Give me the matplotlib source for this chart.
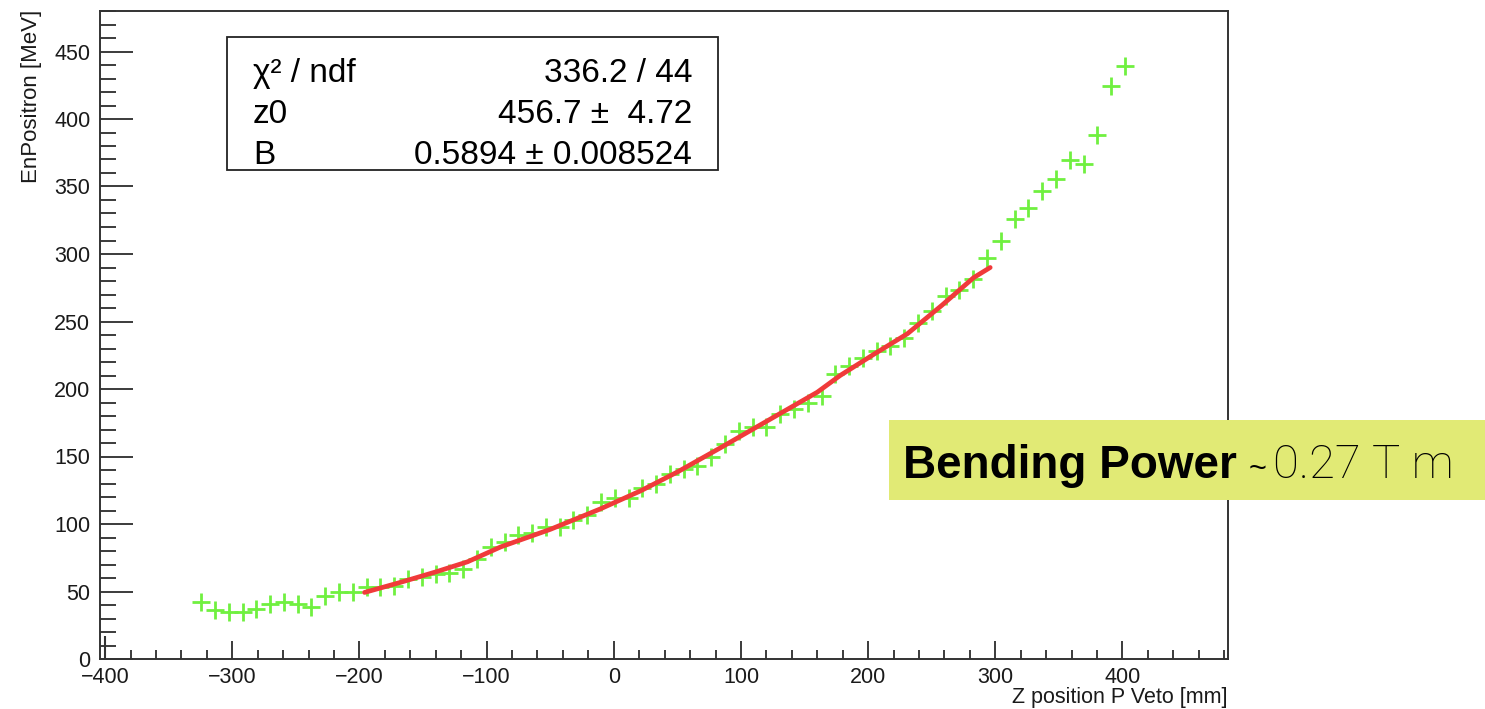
import matplotlib
matplotlib.use('Agg')
import matplotlib.pyplot as plt
from matplotlib.patches import Rectangle
from matplotlib.ticker import MultipleLocator

# measured points (Z position [mm], EnPositron [MeV])
z_pos = [-324.4, -313.6, -302.7, -291.9, -281.0, -270.2, -259.4, -248.5, -237.7, -226.8,
         -216.0, -205.2, -194.3, -183.5, -172.6, -161.8, -151.0, -140.1, -129.3, -118.4,
         -107.6, -96.8, -85.9, -75.1, -64.2, -53.4, -42.6, -31.7, -20.9, -10.0,
         0.8, 11.6, 22.5, 33.3, 44.2, 55.0, 65.8, 76.7, 87.5, 98.4,
         109.2, 120.0, 130.9, 141.7, 152.6, 163.4, 174.2, 185.1, 195.9, 206.8,
         217.6, 228.4, 239.3, 250.1, 261.0, 271.8, 282.6, 293.5, 304.3, 315.2,
         326.0, 336.8, 347.7, 358.5, 369.4, 380.2, 391.0, 401.9]
en_pos = [42.1, 36.4, 34.7, 34.7, 37.2, 40.9, 42.1, 40.4, 38.4, 46.3,
          50.0, 50.0, 53.2, 53.2, 54.4, 59.0, 60.4, 63.3, 64.0, 67.0,
          74.4, 82.6, 87.0, 92.2, 93.0, 97.5, 97.5, 102.6, 106.3, 116.0,
          118.9, 119.6, 127.0, 130.0, 137.4, 141.0, 143.3, 150.0, 159.6, 169.0,
          171.5, 171.5, 181.8, 185.5, 190.0, 195.0, 211.0, 217.4, 223.3, 228.5,
          232.2, 238.1, 249.0, 258.0, 269.0, 273.0, 281.8, 297.4, 309.3, 325.6,
          334.4, 346.3, 355.2, 369.3, 367.0, 388.5, 424.8, 438.9]

# fit curve as drawn
fit_z = [-196, -168, -140, -115, -89, -50, -11, 21, 50, 84, 120, 160, 178, 205, 231, 258, 283, 296]
fit_en = [49.3, 56.7, 64.5, 72.0, 83.0, 96.0, 111.0, 124.5, 138.5, 156.5, 176.0, 197.6,
          210.0, 226.0, 241.0, 262.0, 282.5, 290.0]

# stray entry near the left edge
stray_z = [-400]
stray_lo = [0]
stray_hi = [17]

stat_names = ['χ² / ndf', 'z0', 'B']
stat_values = ['336.2 / 44', '456.7 ±  4.72', '0.5894 ± 0.008524']

W, H = 1485, 709
plt.rcParams['font.family'] = ['Liberation Sans', 'DejaVu Sans']
fig = plt.figure(figsize=(W / 100, H / 100), dpi=100)
ax = fig.add_axes([100 / W, 50 / H, 1128 / W, 648 / H])

ax.plot(z_pos, en_pos, ls='none', marker='+', ms=12.5, mew=2, color='#70f040', zorder=3)
ax.plot(fit_z, fit_en, color='#f03a3a', lw=3.4, solid_capstyle='round', zorder=4)
ax.vlines(stray_z, stray_lo, stray_hi, color='#333333', lw=1.5)

ax.set_xlim(-404, 483)
ax.set_ylim(0, 480)
ax.xaxis.set_major_locator(MultipleLocator(100))
ax.xaxis.set_minor_locator(MultipleLocator(20))
ax.yaxis.set_major_locator(MultipleLocator(50))
ax.yaxis.set_minor_locator(MultipleLocator(10))
ax.tick_params(which='both', direction='in', top=False, right=False, colors='#1a1a1a', labelsize=15.5)
ax.xaxis.set_tick_params(which='major', length=13, width=1.2, pad=5.5)
ax.xaxis.set_tick_params(which='minor', length=6.5, width=1.2)
ax.yaxis.set_tick_params(which='major', length=24, width=1.2, pad=7)
ax.yaxis.set_tick_params(which='minor', length=11.5, width=1.2)
for s in ax.spines.values():
    s.set_linewidth(1.4)
    s.set_color('#333333')

fig.text(31 / W, 1 - 10 / H, 'EnPositron [MeV]', rotation=90, ha='center', va='top',
         fontsize=16, color='#1a1a1a')
fig.text(1228 / W, 1 - 703 / H, 'Z position P Veto [mm]', ha='right', va='baseline',
         fontsize=15.5, color='#1a1a1a')

# stats box
ax.add_patch(Rectangle((0.1126, 0.7546), 0.4353, 0.2053, transform=ax.transAxes,
                       facecolor='white', edgecolor='#222222', lw=1.3, zorder=6))
for i in range(len(stat_names)):
    yb = 1 - (82 + 41 * i) / H
    fig.text(253 / W, yb, stat_names[i], ha='left', va='baseline', fontsize=24, zorder=7)
    fig.text(692 / W, yb, stat_values[i], ha='right', va='baseline', fontsize=24, zorder=7)

# highlighted note
fig.add_artist(Rectangle((889 / W, (H - 500) / H), (W - 889) / W, 80 / H, transform=fig.transFigure,
                         facecolor='#e1ea75', edgecolor='none', zorder=10))
base_y = (H - 478) / H
t1 = fig.text(903 / W, base_y, 'Bending Power', fontsize=33, fontweight='bold',
              ha='left', va='baseline', zorder=11)
fig.canvas.draw()
bb = t1.get_window_extent()
t2 = fig.text((bb.x1 + 12) / W, base_y, '~', fontsize=22, ha='left', va='baseline', zorder=11)
fig.canvas.draw()
bb2 = t2.get_window_extent()
fig.text((bb2.x1 + 6) / W, base_y, '0.27 T m', fontsize=34, family=['Roboto', 'Liberation Sans'],
         fontweight='light', ha='left', va='baseline', zorder=11)

fig.savefig('out.png', dpi=100)
